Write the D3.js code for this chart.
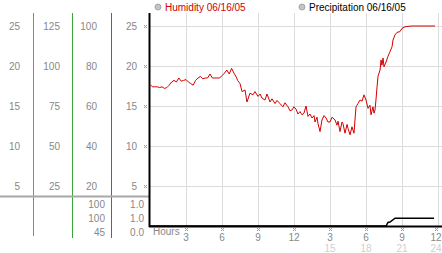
<!DOCTYPE html>
<html><head><meta charset="utf-8">
<script src="https://cdn.jsdelivr.net/npm/d3@7"></script>
<style>html,body{margin:0;padding:0;background:#fff;overflow:hidden}svg{display:block}text{font-family:"Liberation Sans",Arial,sans-serif;font-size:10px}</style>
</head><body>
<svg id="c" width="442" height="253"></svg>
<script>
// ---- data ----
const humHours = [0,0.2,0.4,0.6,0.8,1.0,1.2,1.4,1.6,1.8,2.0,2.2,2.4,2.6,2.8,3.0,3.2,3.4,3.6,3.8,4.0,4.2,4.4,4.6,4.8,5.0,5.2,5.4,5.6,5.8,6.0,6.2,6.4,6.6,6.8,7.0,7.2,7.3,
 7.5,7.67,7.92,8.08,8.33,8.58,8.75,9.0,9.17,9.33,9.58,9.75,10.0,10.17,10.42,10.58,10.83,11.08,11.25,11.5,11.67,11.83,12.0,12.17,12.33,12.5,12.67,12.83,13.0,13.17,13.33,13.5,13.67,13.75,13.92,14.0,14.17,14.33,14.5,14.67,14.83,15.0,15.17,15.42,15.58,15.67,15.83,16.0,16.08,16.25,16.42,16.5,16.67,16.83,17.0,17.08,17.17,17.33,17.5,17.67,17.83,18.0,18.17,18.33,18.42,18.58,18.67,18.75,18.83,18.92,19.0,19.17,19.25,19.33,19.42,19.5,19.67,19.83,20.0,20.17,20.25,20.42,20.58,20.83,21.0,21.25,21.5,21.83,22.5,23.75];
const humidity = [17.7,17.4,17.4,17.4,17.3,17.4,17.2,17.3,17.6,18.0,18.2,18.0,18.5,18.1,18.2,18.3,18.0,17.8,17.6,18.2,18.5,18.7,18.4,18.5,18.5,19.0,18.5,18.5,18.5,18.5,18.8,19.1,19.5,19.0,19.7,19.1,18.6,18.2,
 17.8,16.8,17.0,15.5,16.6,16.4,16.8,16.2,16.5,16.0,15.75,16.5,15.5,15.9,15.3,15.7,15.3,14.9,15.4,14.9,14.4,14.5,14.9,14.6,14.0,14.3,13.9,14.1,15.0,13.7,14.0,13.5,13.8,13.0,13.6,12.8,11.8,13.25,13.8,13.5,13.0,13.0,13.6,13.25,12.6,13.1,11.8,13.0,12.8,11.6,12.7,12.2,11.4,12.4,11.6,13.25,14.9,15.3,15.75,15.6,16.4,15.75,14.7,15.1,13.9,14.9,14.1,14.5,15.75,17.4,18.7,19.5,20.75,20.1,21.0,19.9,20.5,21.2,21.8,22.4,23.25,23.9,24.2,24.3,24.7,24.9,24.95,25.0,25.0,25.0];
const precipHours = [0,19.67,19.83,20.0,20.42,23.67];
const precip = [0,0,0.12,0.13,0.26,0.26];
const yTicks = [25,20,15,10,5];
const col1Labels = ["25","20","15","10","5"];
const col2Labels = ["125","100","75","50","25"];
const col3Labels = ["100","80","60","40","20"];
const col4Labels = ["25","20","15","10","5"];
const col3Lower = ["100","100","45"];
const col4Lower = ["1.0","1.0","0.0"];
const xTicks = [3,6,9,12,15,18,21,24];
const xLabels1 = ["3","6","9","12","3","6","9","12"];
const xLabels2 = ["","","","","15","18","21","24"];
const legendLabels = ["Humidity 06/16/05","Precipitation 06/16/05"];

// ---- drawing ----
const svg = d3.select("#c");
const x = d3.scaleLinear().domain([0,24]).range([150,438]);
const y = d3.scaleLinear().domain([0,25]).range([226,26]);
const yp = d3.scaleLinear().domain([0,1]).range([226,196]);
const grey = "#888";

// gridlines
svg.append("g").selectAll("line").data(yTicks).join("line")
  .attr("x1",150).attr("x2",442).attr("y1",d=>y(d)+0.5).attr("y2",d=>y(d)+0.5)
  .attr("stroke","#dcdcdc");
svg.append("g").selectAll("line").data(xTicks).join("line")
  .attr("x1",d=>x(d)+0.5).attr("x2",d=>x(d)+0.5).attr("y1",13).attr("y2",226)
  .attr("stroke","#dcdcdc");

// coloured scale lines
[[33,"#3aa3c8",236],[72,"#3aa63a",238],[111,"#c83a3a",238]].forEach(([cx,col,yb])=>{
  svg.append("line").attr("x1",cx+0.5).attr("x2",cx+0.5).attr("y1",13).attr("y2",yb)
    .attr("stroke",col).attr("stroke-width",1);
});
// separator
svg.append("line").attr("x1",0).attr("x2",149).attr("y1",196.5).attr("y2",196.5)
  .attr("stroke","#a8a8a8").attr("stroke-width",2);

// left labels
function col(labels, xr){
  svg.append("g").selectAll("text").data(labels).join("text")
    .attr("x",xr).attr("y",(d,i)=>y(yTicks[i])+3.5).attr("text-anchor","end")
    .attr("fill",grey).text(d=>d);
}
col(col1Labels,20); col(col2Labels,60); col(col3Labels,97); col(col4Labels,137);
function lower(labels,xr){
  svg.append("g").selectAll("text").data(labels).join("text")
    .attr("x",xr).attr("y",(d,i)=>207.5+14*i).attr("text-anchor","end")
    .attr("fill",grey).text(d=>d);
}
lower(col3Lower,105); lower(col4Lower,144);

// tiny hatch tick marks
function hatch(g,cx,cy){
  [[0,0],[2,0],[1,1],[0,2],[2,2]].forEach(([a,b])=>{
    g.append("rect").attr("x",cx-1+a).attr("y",cy-1+b).attr("width",1).attr("height",1).attr("fill","#999");
  });
}
const hg = svg.append("g");
yTicks.forEach(t=>hatch(hg,145,Math.round(y(t))));
xTicks.forEach(t=>hatch(hg,Math.min(Math.round(x(t)),436),229));

// axes lines
svg.append("line").attr("x1",149.5).attr("x2",149.5).attr("y1",13).attr("y2",227).attr("stroke","#000").attr("stroke-width",2);
svg.append("line").attr("x1",149).attr("x2",442).attr("y1",226.5).attr("y2",226.5).attr("stroke","#000").attr("stroke-width",2);

// bottom labels
svg.append("text").attr("x",153).attr("y",235).attr("fill",grey).text("Hours");
svg.append("g").selectAll("text").data(xLabels1).join("text")
  .attr("x",(d,i)=>Math.min(x(xTicks[i]),436)).attr("y",241).attr("text-anchor","middle")
  .attr("fill",grey).text(d=>d);
svg.append("g").selectAll("text").data(xLabels2).join("text")
  .attr("x",(d,i)=>Math.min(x(xTicks[i]),436)).attr("y",252).attr("text-anchor","middle")
  .attr("font-size","9.5px").attr("fill","#cfcfcf").text(d=>d);

// series
const humLine = d3.line().x((d,i)=>x(humHours[i])).y(d=>y(d));
svg.append("path").attr("d",humLine(humidity)).attr("fill","none").attr("stroke","#d40000").attr("stroke-width",1);
const pLine = d3.line().x((d,i)=>x(precipHours[i])).y(d=>yp(d));
svg.append("path").attr("d",pLine(precip)).attr("fill","none").attr("stroke","#000").attr("stroke-width",1.5);

// legend
[[158,"#cc0000"],[302,"#000"]].forEach(([lx,col],i)=>{
  svg.append("circle").attr("cx",lx).attr("cy",7).attr("r",3).attr("fill","#c4c4c4").attr("stroke","#999").attr("stroke-width",0.8);
  svg.append("text").attr("x",lx+7).attr("y",10.5).attr("fill",col).text(legendLabels[i]);
});
</script>
</body></html>
